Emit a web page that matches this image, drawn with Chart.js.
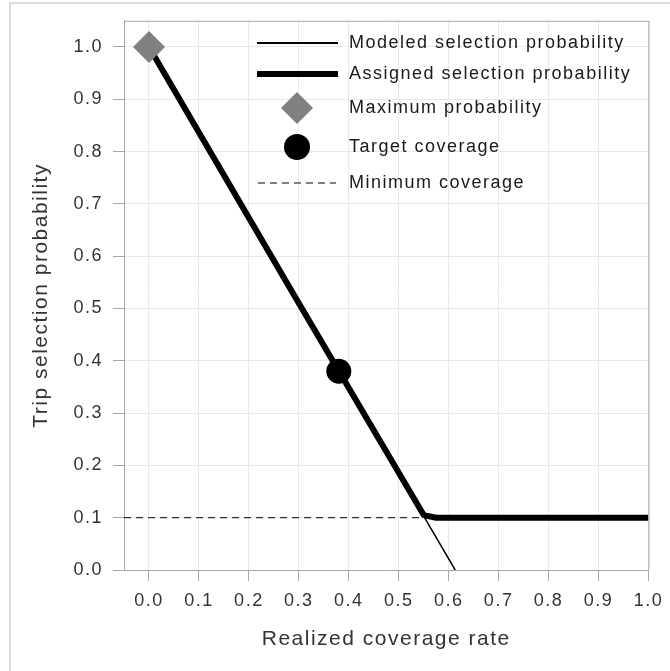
<!DOCTYPE html>
<html>
<head>
<meta charset="utf-8">
<script src="https://cdn.jsdelivr.net/npm/chart.js@4.4.1/dist/chart.umd.min.js"></script>
<style>
    html, body { margin: 0; padding: 0; background: #fff; }
    #wrap { position: relative; width: 670px; height: 671px; }
</style>
</head>
<body>
<div id="wrap"><canvas id="chart"></canvas></div>
<script>
// values
const modeledX = [0.0, 0.3, 0.55, 0.613]
const modeledY = [1.0, 0.51, 0.103, 0.0]
const assignedX = [0.0, 0.3, 0.55, 0.575, 1.0]
const assignedY = [1.0, 0.51, 0.105, 0.1, 0.1]
const maxProbX = [0.0]
const maxProbY = [1.0]
const targetX = [0.38]
const targetY = [0.38]
const minCoverageX = [-0.05, 0.56]
const minCoverageY = [0.1, 0.1]
const xTickValues = [0.0, 0.1, 0.2, 0.3, 0.4, 0.5, 0.6, 0.7, 0.8, 0.9, 1.0]
const yTickValues = [0.0, 0.1, 0.2, 0.3, 0.4, 0.5, 0.6, 0.7, 0.8, 0.9, 1.0]
const legendLabels = [
    'Modeled selection probability',
    'Assigned selection probability',
    'Maximum probability',
    'Target coverage',
    'Minimum coverage',
]

const toPoints = (xs, ys) => xs.map((x, i) => ({ x, y: ys[i] }))

const FONT = "'Liberation Sans', Arial, sans-serif"
const AXIS_GRAY = '#a3a9b0'
const SPACING = '1.5px'

const framePlugin = {
    id: 'frame',
    beforeDraw(chart) {
        const ctx = chart.ctx
        ctx.save()
        ctx.fillStyle = '#fff'
        ctx.fillRect(0, 0, chart.width, chart.height)
        ctx.strokeStyle = '#dcdcdc'
        ctx.lineWidth = 2
        ctx.beginPath()
        ctx.moveTo(10, chart.height)
        ctx.lineTo(10, 3)
        ctx.lineTo(chart.width, 3)
        ctx.stroke()
        ctx.restore()
        ctx.letterSpacing = SPACING
    },
    afterDatasetsDraw(chart) {
        const { ctx, chartArea } = chart
        ctx.save()
        ctx.strokeStyle = AXIS_GRAY
        ctx.lineWidth = 1
        ctx.beginPath()
        ctx.moveTo(chartArea.left, chartArea.top + 0.5)
        ctx.lineTo(chartArea.right + 0.5, chartArea.top + 0.5)
        ctx.lineTo(chartArea.right + 0.5, chartArea.bottom)
        ctx.stroke()

        // legend inside the plot
        const symX = 297
        const textX = 349
        const rows = [43, 74, 108, 147, 183]
        ctx.strokeStyle = '#000'
        ctx.fillStyle = '#000'
        ctx.lineCap = 'butt'

        ctx.lineWidth = 2
        ctx.beginPath()
        ctx.moveTo(257, rows[0])
        ctx.lineTo(338, rows[0])
        ctx.stroke()

        ctx.lineWidth = 6
        ctx.beginPath()
        ctx.moveTo(257, rows[1])
        ctx.lineTo(338, rows[1])
        ctx.stroke()

        ctx.fillStyle = '#808080'
        ctx.beginPath()
        ctx.moveTo(symX - 16, rows[2])
        ctx.lineTo(symX, rows[2] - 16)
        ctx.lineTo(symX + 16, rows[2])
        ctx.lineTo(symX, rows[2] + 16)
        ctx.closePath()
        ctx.fill()

        ctx.fillStyle = '#000'
        ctx.beginPath()
        ctx.arc(symX, rows[3], 13, 0, Math.PI * 2)
        ctx.fill()

        ctx.lineWidth = 1
        ctx.setLineDash([7, 5])
        ctx.beginPath()
        ctx.moveTo(258, rows[4])
        ctx.lineTo(336, rows[4])
        ctx.stroke()
        ctx.setLineDash([])

        ctx.font = '18px ' + FONT
        ctx.letterSpacing = SPACING
        ctx.textAlign = 'left'
        ctx.textBaseline = 'middle'
        ctx.fillStyle = '#1a1a1a'
        legendLabels.forEach((label, i) => ctx.fillText(label, textX, rows[i]))
        ctx.restore()
    },
}

new Chart(document.getElementById('chart'), {
    type: 'scatter',
    data: {
        // first dataset is drawn on top
        datasets: [
            {
                label: 'Target coverage',
                data: toPoints(targetX, targetY),
                pointStyle: 'circle',
                pointRadius: 12.5,
                backgroundColor: '#000',
                borderWidth: 0,
            },
            {
                label: 'Maximum probability',
                data: toPoints(maxProbX, maxProbY),
                pointStyle: 'rectRot',
                pointRadius: 16,
                backgroundColor: '#808080',
                borderWidth: 0,
                clip: false,
            },
            {
                label: 'Modeled selection probability',
                data: toPoints(modeledX, modeledY),
                showLine: true,
                borderColor: '#000',
                borderWidth: 1.5,
                pointRadius: 0,
            },
            {
                label: 'Assigned selection probability',
                data: toPoints(assignedX, assignedY),
                showLine: true,
                borderColor: '#000',
                borderWidth: 6,
                borderJoinStyle: 'round',
                pointRadius: 0,
            },
            {
                label: 'Minimum coverage',
                data: toPoints(minCoverageX, minCoverageY),
                showLine: true,
                borderColor: '#000',
                borderWidth: 1,
                borderDash: [7, 5],
                pointRadius: 0,
            },
        ],
    },
    options: {
        responsive: true,
        maintainAspectRatio: false,
        animation: false,
        layout: { padding: { top: 19, right: 19, left: 0, bottom: 0 } },
        plugins: {
            legend: { display: false },
            tooltip: { enabled: false },
        },
        scales: {
            x: {
                type: 'linear',
                min: -0.05,
                max: 1.0,
                afterBuildTicks: scale => {
                    scale.ticks = xTickValues.map(v => ({ value: v }))
                },
                afterFit: scale => {
                    scale.height = 101
                },
                ticks: {
                    padding: 9,
                    color: '#333',
                    font: { family: FONT, size: 18 },
                    callback: v => v.toFixed(1),
                },
                grid: { color: '#e9e9e9', tickColor: AXIS_GRAY, tickLength: 11 },
                border: { color: AXIS_GRAY },
                title: {
                    display: true,
                    text: 'Realized coverage rate',
                    color: '#333',
                    font: { family: FONT, size: 21 },
                    padding: { top: 0, bottom: 19 },
                },
            },
            y: {
                type: 'linear',
                min: 0,
                max: 1.05,
                afterBuildTicks: scale => {
                    scale.ticks = yTickValues.map(v => ({ value: v }))
                },
                afterFit: scale => {
                    scale.width = 124
                },
                ticks: {
                    padding: 10,
                    color: '#333',
                    font: { family: FONT, size: 18 },
                    callback: v => v.toFixed(1),
                },
                grid: { color: '#e9e9e9', tickColor: AXIS_GRAY, tickLength: 11 },
                border: { color: AXIS_GRAY },
                title: {
                    display: true,
                    text: 'Trip selection probability',
                    color: '#333',
                    font: { family: FONT, size: 21 },
                    padding: { top: 29, bottom: 0 },
                },
            },
        },
    },
    plugins: [framePlugin],
})
</script>
</body>
</html>
